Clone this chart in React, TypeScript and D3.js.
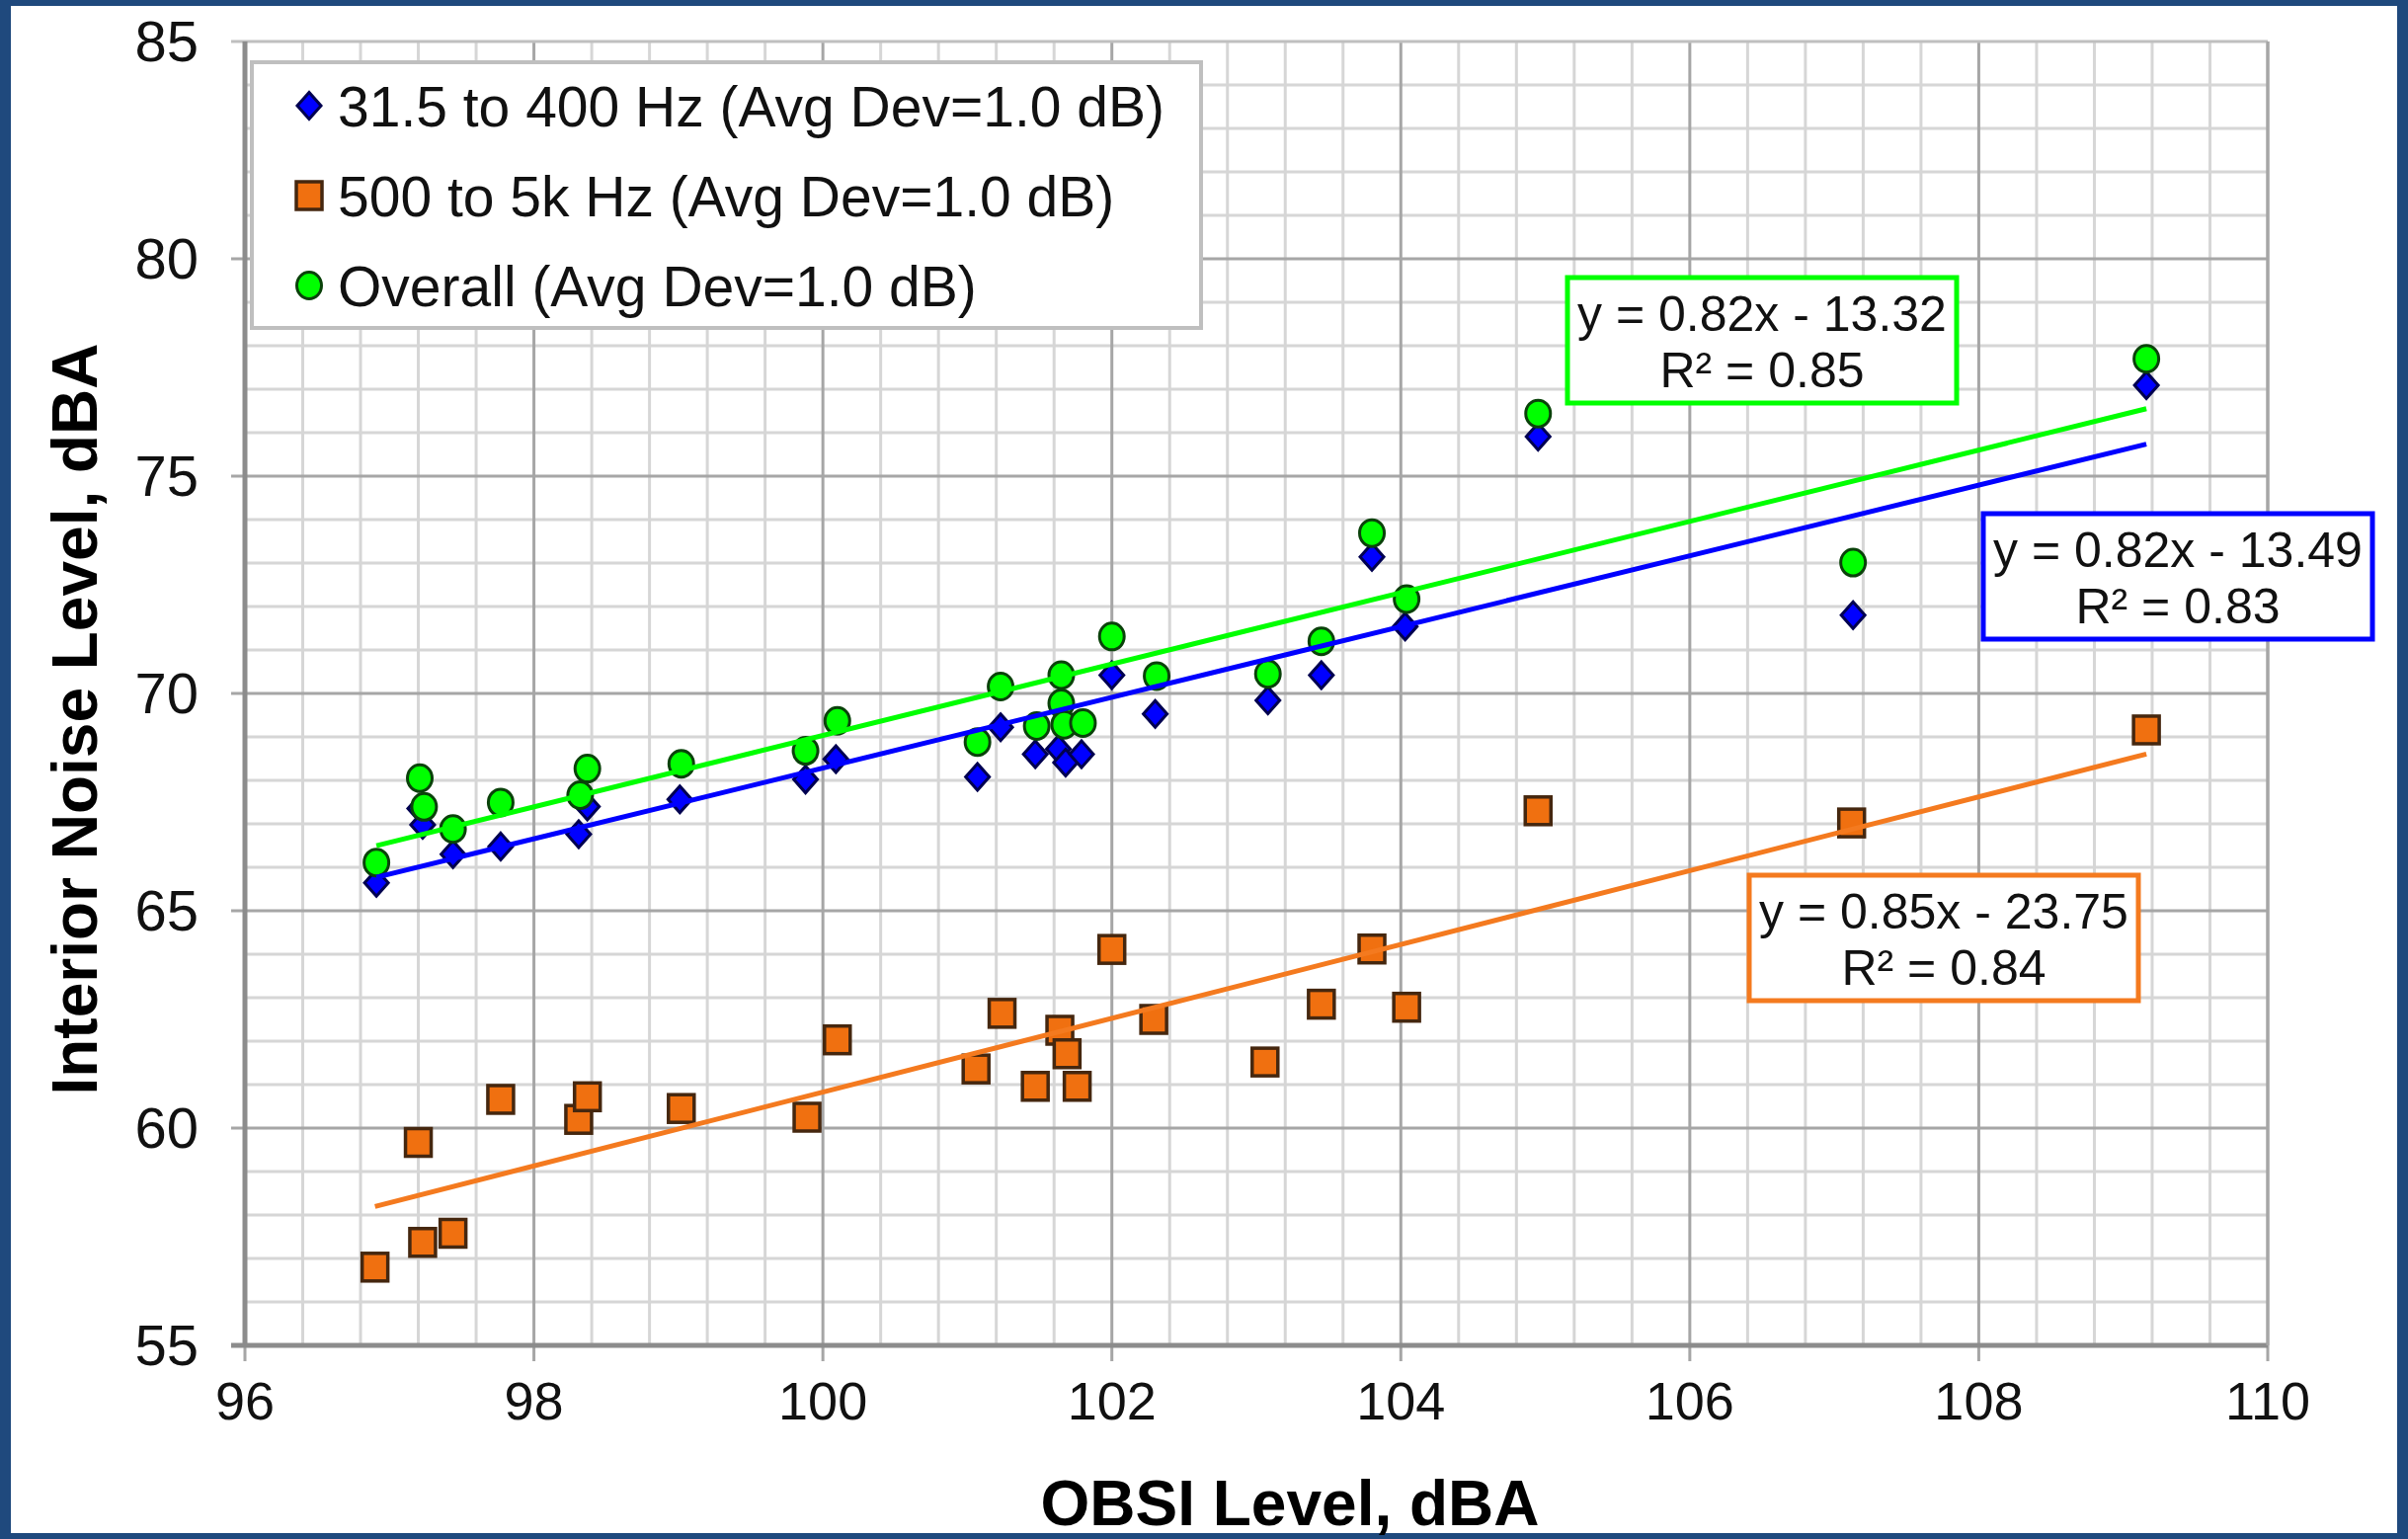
import React, { useEffect, useRef } from 'react';
import * as d3 from 'd3';

// OBSI level (x) and interior noise level (y), dBA
const lowBandX = [96.91, 97.21, 97.23, 97.44, 97.77, 98.31, 98.37, 99.01, 99.88, 100.09, 101.07, 101.23, 101.47, 101.63, 101.68, 101.79, 102.0, 102.3, 103.08, 103.45, 103.8, 104.03, 104.95, 107.13, 109.16];
const lowBandY = [65.64, 67.35, 66.98, 66.3, 66.48, 66.76, 67.4, 67.56, 68.02, 68.49, 68.08, 69.22, 68.6, 68.72, 68.41, 68.6, 70.42, 69.53, 69.84, 70.42, 73.14, 71.54, 75.91, 71.8, 77.09];

const highBandX = [96.9, 97.2, 97.23, 97.44, 97.77, 98.31, 98.37, 99.02, 99.89, 100.1, 101.06, 101.24, 101.47, 101.64, 101.69, 101.76, 102.0, 102.29, 103.06, 103.45, 103.8, 104.04, 104.95, 107.12, 109.16];
const highBandY = [56.8, 59.67, 57.37, 57.58, 60.66, 60.2, 60.72, 60.45, 60.25, 62.03, 61.36, 62.64, 60.96, 62.25, 61.71, 60.96, 64.11, 62.5, 61.52, 62.85, 64.12, 62.78, 67.3, 67.02, 69.16];

const overallX = [96.91, 97.21, 97.24, 97.44, 97.77, 98.32, 98.37, 99.02, 99.88, 100.1, 101.07, 101.23, 101.48, 101.65, 101.65, 101.67, 101.8, 102.0, 102.31, 103.08, 103.45, 103.8, 104.04, 104.95, 107.13, 109.16];
const overallY = [66.11, 68.05, 67.39, 66.88, 67.49, 67.66, 68.27, 68.38, 68.68, 69.37, 68.88, 70.16, 69.25, 70.42, 69.77, 69.28, 69.32, 71.31, 70.4, 70.45, 71.2, 73.69, 72.17, 76.44, 73.01, 77.7];

const seriesNames = [
  '31.5 to 400 Hz (Avg Dev=1.0 dB)',
  '500 to 5k Hz (Avg Dev=1.0 dB)',
  'Overall (Avg Dev=1.0 dB)',
];
const equations = [
  ['y = 0.82x - 13.49', 'R\u00b2 = 0.83'],
  ['y = 0.85x - 23.75', 'R\u00b2 = 0.84'],
  ['y = 0.82x - 13.32', 'R\u00b2 = 0.85'],
];

const xTicks = [96, 98, 100, 102, 104, 106, 108, 110];
const yTicks = [55, 60, 65, 70, 75, 80, 85];

const FONT = '"Liberation Sans", Arial, sans-serif';

function fit(xs: number[], ys: number[]) {
  const mx = d3.mean(xs) as number;
  const my = d3.mean(ys) as number;
  let sxy = 0, sxx = 0;
  xs.forEach((x, i) => {
    sxy += (x - mx) * (ys[i] - my);
    sxx += (x - mx) * (x - mx);
  });
  const slope = sxy / sxx;
  return { slope, intercept: my - slope * mx };
}

export default function App() {
  const ref = useRef<SVGSVGElement>(null);

  useEffect(() => {
    const width = 2438;
    const height = 1558;
    const left = 248, right = 2296, top = 42, bottom = 1362;

    const svg = d3.select(ref.current);
    svg.selectAll('*').remove();

    // frame
    svg.append('rect').attr('width', width).attr('height', height).attr('fill', '#1f497d');
    svg.append('rect').attr('x', 11).attr('y', 6).attr('width', width - 22).attr('height', height - 12).attr('fill', '#fff');

    const x = d3.scaleLinear().domain([96, 110]).range([left, right]);
    const y = d3.scaleLinear().domain([55, 85]).range([bottom, top]);

    // grid
    const grid = svg.append('g');
    const xMinor = d3.range(0, 36).map(i => 96 + i * 0.4).filter((v, i) => i % 5 !== 0);
    const yMinor = d3.range(55, 86).filter(v => v % 5 !== 0);
    grid.selectAll('.vmin').data(xMinor).enter().append('line')
      .attr('x1', d => x(d)).attr('x2', d => x(d)).attr('y1', top).attr('y2', bottom)
      .attr('stroke', '#d6d6d6').attr('stroke-width', 3);
    grid.selectAll('.hmin').data(yMinor).enter().append('line')
      .attr('x1', left).attr('x2', right).attr('y1', d => y(d)).attr('y2', d => y(d))
      .attr('stroke', '#d6d6d6').attr('stroke-width', 3);
    grid.selectAll('.vmaj').data(xTicks).enter().append('line')
      .attr('x1', d => x(d)).attr('x2', d => x(d)).attr('y1', top).attr('y2', bottom + 16)
      .attr('stroke', '#a6a6a6').attr('stroke-width', 3);
    grid.selectAll('.hmaj').data(yTicks).enter().append('line')
      .attr('x1', left - 14).attr('x2', right).attr('y1', d => y(d)).attr('y2', d => y(d))
      .attr('stroke', d => (d === 55 ? '#8c8c8c' : d === 85 ? '#bfbfbf' : '#a6a6a6'))
      .attr('stroke-width', d => (d === 55 ? 5 : 3));
    // axis line
    grid.append('line').attr('x1', left).attr('x2', left).attr('y1', top).attr('y2', bottom)
      .attr('stroke', '#8c8c8c').attr('stroke-width', 5);
    grid.append('line').attr('x1', right).attr('x2', right).attr('y1', top).attr('y2', bottom)
      .attr('stroke', '#a6a6a6').attr('stroke-width', 3);

    // tick labels
    svg.append('g').selectAll('text').data(yTicks).enter().append('text')
      .attr('x', 201).attr('y', d => y(d)).attr('dy', '0.34em')
      .attr('text-anchor', 'end').attr('font-family', FONT).attr('font-size', 58).attr('fill', '#111')
      .text(d => d);
    svg.append('g').selectAll('text').data(xTicks).enter().append('text')
      .attr('x', d => x(d)).attr('y', 1437)
      .attr('text-anchor', 'middle').attr('font-family', FONT).attr('font-size', 54).attr('fill', '#111')
      .text(d => d);

    // axis titles
    svg.append('text').attr('x', 1306).attr('y', 1544).attr('text-anchor', 'middle')
      .attr('font-family', FONT).attr('font-weight', 'bold').attr('font-size', 64).text('OBSI Level, dBA');
    svg.append('text').attr('transform', 'translate(98,728) rotate(-90)').attr('text-anchor', 'middle')
      .attr('font-family', FONT).attr('font-weight', 'bold').attr('font-size', 64).text('Interior Noise Level, dBA');

    const diamond = 'M0,-13.5L12,0L0,13.5L-12,0Z';
    const drawDiamond = (g: any) => g.append('path').attr('d', diamond)
      .attr('fill', '#0000ff').attr('stroke', '#000050').attr('stroke-width', 3);
    const drawSquare = (g: any) => g.append('rect').attr('x', -13).attr('y', -14).attr('width', 26).attr('height', 28)
      .attr('fill', '#f07010').attr('stroke', '#45270f').attr('stroke-width', 3.5);
    const drawCircle = (g: any) => g.append('ellipse').attr('rx', 12.5).attr('ry', 13.5)
      .attr('fill', '#00ff00').attr('stroke', '#0a420a').attr('stroke-width', 3);

    const series = [
      { xs: lowBandX, ys: lowBandY, draw: drawDiamond, color: '#0000ff' },
      { xs: highBandX, ys: highBandY, draw: drawSquare, color: '#f47a1f' },
      { xs: overallX, ys: overallY, draw: drawCircle, color: '#00ff00' },
    ];

    series.forEach(s => {
      const g = svg.append('g');
      s.xs.forEach((v, i) => {
        const m = g.append('g').attr('transform', `translate(${x(v)},${y(s.ys[i])})`);
        s.draw(m);
      });
    });

    // linear trend lines
    series.forEach(s => {
      const f = fit(s.xs, s.ys);
      const ext = d3.extent(s.xs) as [number, number];
      svg.append('path')
        .datum(ext)
        .attr('d', d3.line<number>().x(d => x(d)).y(d => y(f.slope * d + f.intercept)))
        .attr('stroke', s.color).attr('stroke-width', 5).attr('fill', 'none');
    });

    // legend
    const lg = svg.append('g');
    lg.append('rect').attr('x', 255).attr('y', 63).attr('width', 961).attr('height', 269)
      .attr('fill', '#fff').attr('stroke', '#bfbfbf').attr('stroke-width', 4);
    series.forEach((s, i) => {
      const cy = 107 + i * 91;
      s.draw(lg.append('g').attr('transform', `translate(313,${cy})`));
      lg.append('text').attr('x', 342).attr('y', cy).attr('dy', '0.36em')
        .attr('font-family', FONT).attr('font-size', 57).attr('fill', '#111').text(seriesNames[i]);
    });

    // equation boxes
    const boxes = [
      { x: 2008, y: 520, color: '#0000ff' },
      { x: 1771, y: 886, color: '#f47a1f' },
      { x: 1587, y: 281, color: '#00ff00' },
    ];
    boxes.forEach((b, i) => {
      const g = svg.append('g');
      g.append('rect').attr('x', b.x).attr('y', b.y).attr('width', 394).attr('height', 127)
        .attr('fill', '#fff').attr('stroke', b.color).attr('stroke-width', 5);
      equations[i].forEach((t, j) => {
        g.append('text').attr('x', b.x + 197).attr('y', b.y + 36 + j * 57).attr('dy', '0.36em')
          .attr('text-anchor', 'middle').attr('font-family', FONT).attr('font-size', 50).attr('fill', '#111')
          .text(t);
      });
    });
  }, []);

  return (
    <svg ref={ref} width={2438} height={1558}
      style={{ position: 'absolute', left: 0, top: 0, display: 'block' }} />
  );
}
